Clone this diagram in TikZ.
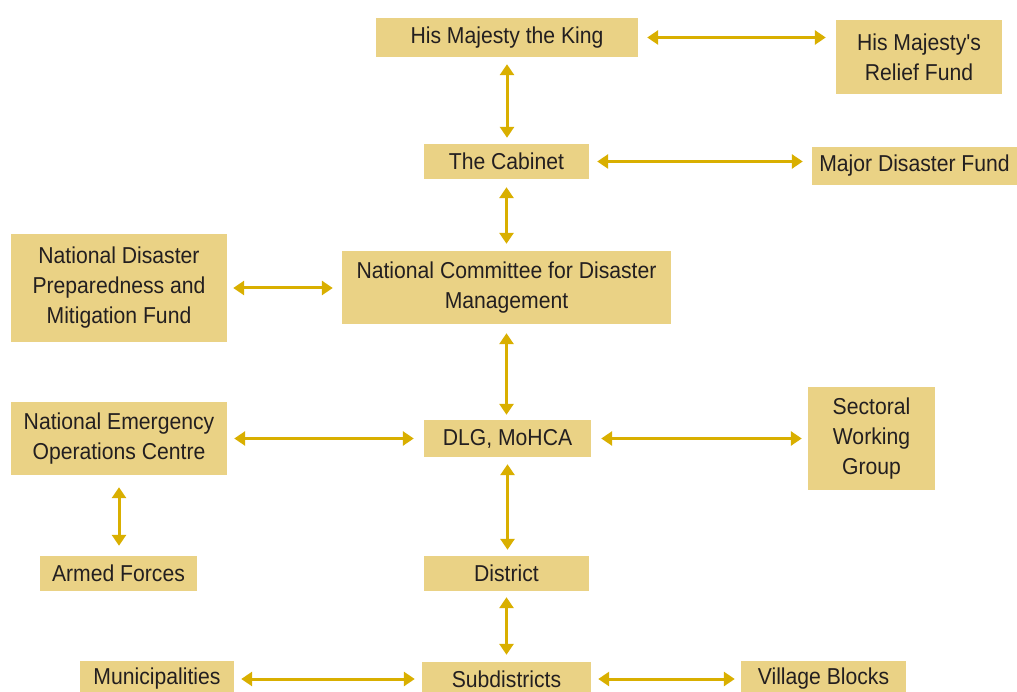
\documentclass[tikz,border=0pt]{standalone}
\usepackage{fontspec}
\setmainfont{Liberation Sans}[FakeStretch=0.92]
\newfontfamily\plainfont{Liberation Sans}[FakeStretch=0.92]
\usetikzlibrary{arrows.meta}
\definecolor{boxfill}{HTML}{EAD285}
\definecolor{arrowcol}{HTML}{D9AF00}
\definecolor{txt}{HTML}{231F20}
\begin{document}
\begin{tikzpicture}[x=1pt,y=-1pt,
  box/.style={fill=boxfill,inner sep=0pt,align=center,text=txt,
    font=\fontsize{23}{30}\selectfont},
  link/.style={draw=arrowcol,line width=3pt,{Triangle[width=14pt,length=11pt]}-{Triangle[width=14pt,length=11pt]}}]
\useasboundingbox (0,0) rectangle (1017,692);
\newcommand{\bx}[6]{\node[box,minimum width={#4-#2},minimum height={#5-#3}] (#1) at ({(#2+#4)/2},{(#3+#5)/2}) {#6};}
\bx{king}{376}{18}{638}{57}{His Majesty the King}
\bx{relief}{836}{20}{1002}{94}{His Majesty{\plainfont '}s\\Relief Fund}
\bx{cab}{424}{144}{589}{179}{The Cabinet}
\bx{mdf}{812}{147}{1017}{185}{Major Disaster Fund}
\bx{ncdm}{342}{251}{671}{324}{National Committee for Disaster\\Management}
\bx{ndpmf}{11}{234}{227}{342}{National Disaster\\Preparedness and\\Mitigation Fund}
\bx{neoc}{11}{402}{227}{475}{National Emergency\\Operations Centre}
\bx{dlg}{424}{420}{591}{457}{DLG, MoHCA}
\bx{swg}{808}{387}{935}{490}{Sectoral\\Working\\Group}
\bx{armed}{40}{556}{197}{591}{Armed Forces}
\bx{dist}{424}{556}{589}{591}{District}
\bx{muni}{80}{661}{234}{697}{Municipalities}
\bx{sub}{422}{662}{591}{696}{Subdistricts}
\bx{vill}{741}{661}{906}{697}{Village Blocks}
\draw[link] ([xshift=9pt]king.east) -- ([xshift=-10pt]king.east-|relief.west);
\draw[link] ([yshift=-7pt]king.south) -- ([yshift=6pt]king.south|-cab.north);
\draw[link] ([xshift=8pt]cab.east) -- ([xshift=-9pt]cab.east-|mdf.west);
\draw[link] ([yshift=-8pt]cab.south) -- ([yshift=7pt]cab.south|-ncdm.north);
\draw[link] ([xshift=6pt]ndpmf.east) -- ([xshift=-9pt]ndpmf.east-|ncdm.west);
\draw[link] ([yshift=-9pt]ncdm.south) -- ([yshift=5pt]ncdm.south|-dlg.north);
\draw[link] ([xshift=7pt]neoc.east|-dlg.west) -- ([xshift=-10pt]dlg.west);
\draw[link] ([xshift=10pt]dlg.east) -- ([xshift=-6pt]dlg.east-|swg.west);
\draw[link] ([yshift=-12pt]neoc.south) -- ([yshift=10pt]armed.north-|neoc.south);
\draw[link] ([yshift=-7pt]dlg.south) -- ([yshift=6pt]dlg.south|-dist.north);
\draw[link] ([yshift=-6pt]dist.south) -- ([yshift=7pt]dist.south|-sub.north);
\draw[link] ([xshift=7pt]muni.east|-sub.west) -- ([xshift=-7pt]sub.west);
\draw[link] ([xshift=7pt]sub.east) -- ([xshift=-6pt]sub.east-|vill.west);
\end{tikzpicture}
\end{document}
